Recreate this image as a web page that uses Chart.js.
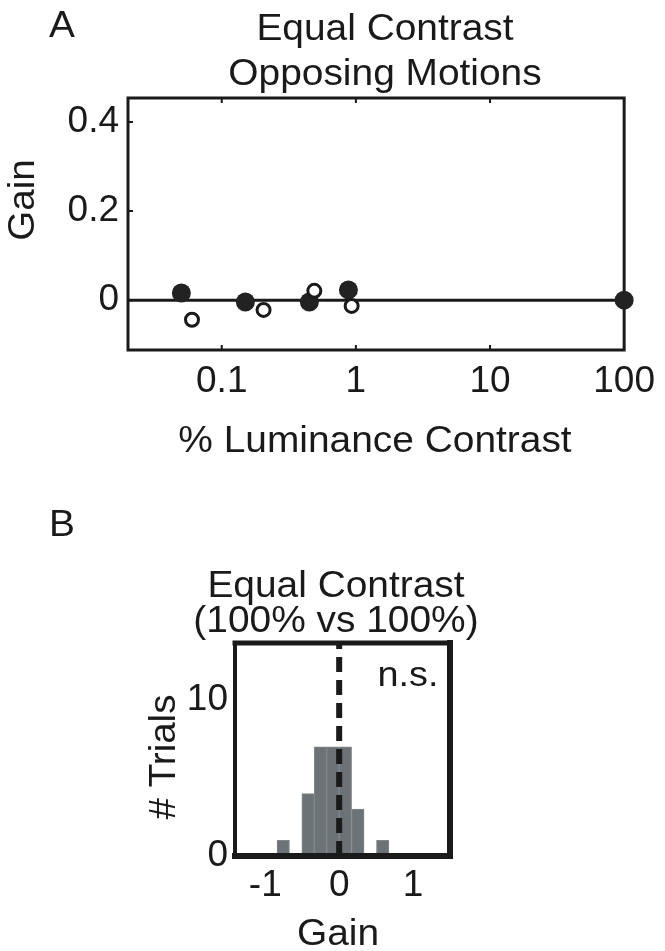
<!DOCTYPE html>
<html lang="en">
<head>
  <meta charset="UTF-8">
  <title>Equal Contrast - Opposing Motions</title>
  <script src="https://cdn.jsdelivr.net/npm/chart.js@4.4.0/dist/chart.umd.min.js"></script>
  <style>
    body { margin: 0; background: #fff; }
    #wrap { position: relative; width: 665px; height: 951px; }
    #wrap canvas { position: absolute; left: 0; top: 0; }
  </style>
</head>
<body>
  <div id="wrap">
    <canvas id="panelA" width="665" height="951"></canvas>
    <canvas id="panelB" width="665" height="951"></canvas>
  </div>

  <script>
    // panel A: gain vs % luminance contrast
    const contrastFilled = [0.05, 0.15, 0.45, 0.88, 100];
    const gainFilled = [0.016, -0.004, -0.004, 0.023, 0];
    const contrastOpen = [0.06, 0.205, 0.49, 0.93];
    const gainOpen = [-0.044, -0.022, 0.021, -0.013];
    const contrastTicks = [0.1, 1, 10, 100];
    const gainTicks = [0, 0.2, 0.4];

    // panel B: histogram of gain, 100% vs 100%
    const binCenters = [-0.757, -0.589, -0.421, -0.253, -0.084, 0.084, 0.253, 0.421, 0.589];
    const trialCounts = [1, 0, 4, 7, 7, 7, 3, 0, 1];
    const histGainTicks = [-1, 0, 1];
    const trialTicks = [0, 10];

    const FONT = "'Liberation Sans', Arial, Helvetica, sans-serif";
    const INK = '#1a1a1a';
    const TICK_SIZE = 37;
    Chart.defaults.font.family = FONT;
    Chart.defaults.color = INK;

    // free text (titles, axis names), slightly widened like the figure
    function label(ctx, s, x, y, size, rotate) {
      ctx.save();
      ctx.font = size + 'px ' + FONT;
      ctx.fillStyle = INK;
      ctx.textAlign = 'center';
      ctx.textBaseline = 'alphabetic';
      ctx.translate(x, y);
      if (rotate) {
        ctx.rotate(-Math.PI / 2);
        ctx.scale(1.07, 1);
      } else {
        ctx.scale(1.08, 1);
      }
      ctx.fillText(s, 0, 0);
      ctx.restore();
    }

    function fixedTicks(values) {
      return scale => { scale.ticks = values.map(v => ({ value: v })); };
    }

    // ---------- A ----------
    const decoA = {
      id: 'decoA',
      beforeDatasetsDraw(chart) {
        const { ctx, chartArea: a, scales: { x, y } } = chart;
        ctx.save();
        ctx.strokeStyle = INK;
        ctx.lineWidth = 3;
        ctx.strokeRect(a.left, a.top, a.width, a.height);
        ctx.lineWidth = 2;
        ctx.beginPath();
        contrastTicks.forEach(v => {
          const px = x.getPixelForValue(v);
          ctx.moveTo(px, a.bottom); ctx.lineTo(px, a.bottom - 5);
          ctx.moveTo(px, a.top); ctx.lineTo(px, a.top + 5);
        });
        gainTicks.forEach(v => {
          const py = y.getPixelForValue(v);
          ctx.moveTo(a.left, py); ctx.lineTo(a.left + 5, py);
        });
        ctx.stroke();
        ctx.restore();
      },
      afterDraw(chart) {
        const ctx = chart.ctx;
        label(ctx, 'A', 62, 37, 36);
        label(ctx, 'Equal Contrast', 385, 40, 36);
        label(ctx, 'Opposing Motions', 385, 85, 36);
        label(ctx, 'Gain', 34, 200, 36, true);
        label(ctx, '% Luminance Contrast', 375, 452, 36);
      }
    };

    new Chart(document.getElementById('panelA'), {
      type: 'scatter',
      data: {
        datasets: [
          {
            label: 'open',
            data: contrastOpen.map((c, i) => ({ x: c, y: gainOpen[i] })),
            pointRadius: 6.5,
            pointBackgroundColor: '#fff',
            pointBorderColor: INK,
            pointBorderWidth: 3,
            order: 0,
            clip: false
          },
          {
            label: 'filled',
            data: contrastFilled.map((c, i) => ({ x: c, y: gainFilled[i] })),
            pointRadius: 9.5,
            pointBackgroundColor: '#222',
            pointBorderWidth: 0,
            order: 1,
            clip: false
          },
          {
            label: 'zero',
            data: [{ x: 0.02, y: 0 }, { x: 100, y: 0 }],
            showLine: true,
            borderColor: INK,
            borderWidth: 3,
            pointRadius: 0,
            order: 2
          }
        ]
      },
      options: {
        responsive: false,
        animation: false,
        layout: { padding: { top: 98, left: 0, right: 40, bottom: 471 } },
        plugins: { legend: { display: false }, tooltip: { enabled: false } },
        scales: {
          x: {
            type: 'logarithmic',
            min: 0.02,
            max: 100,
            afterBuildTicks: fixedTicks(contrastTicks),
            afterFit(s) { s.height = 130; },
            grid: { display: false, drawTicks: false },
            border: { display: false },
            ticks: {
              padding: 10,
              maxRotation: 0,
              font: { size: TICK_SIZE },
              callback: v => String(v)
            }
          },
          y: {
            min: -0.112,
            max: 0.454,
            afterBuildTicks: fixedTicks(gainTicks),
            afterFit(s) { s.width = 128; },
            grid: { display: false, drawTicks: false },
            border: { display: false },
            ticks: { padding: 9, font: { size: TICK_SIZE }, callback: v => String(v) }
          }
        }
      },
      plugins: [decoA]
    });

    // ---------- B ----------
    const decoB = {
      id: 'decoB',
      afterDatasetsDraw(chart) {
        const { ctx, chartArea: a } = chart;
        ctx.save();
        ctx.strokeStyle = INK;
        ctx.lineCap = 'square';
        const side = (w, x1, y1, x2, y2) => {
          ctx.lineWidth = w;
          ctx.beginPath(); ctx.moveTo(x1, y1); ctx.lineTo(x2, y2); ctx.stroke();
        };
        side(5, a.left, a.top, a.right, a.top);
        side(4, a.left, a.top, a.left, a.bottom);
        side(6, a.right, a.top, a.right, a.bottom);
        side(6, a.left, a.bottom, a.right, a.bottom);
        ctx.restore();
      },
      afterDraw(chart) {
        const ctx = chart.ctx;
        label(ctx, 'B', 62, 536, 36);
        label(ctx, 'Equal Contrast', 336, 597, 36);
        label(ctx, '(100% vs 100%)', 336, 632, 36);
        label(ctx, 'n.s.', 408, 686, 35);
        label(ctx, '# Trials', 175, 757, 36, true);
        label(ctx, 'Gain', 338, 945, 36);
      }
    };

    const yMaxB = 13.65;

    new Chart(document.getElementById('panelB'), {
      type: 'bar',
      data: {
        datasets: [
          {
            type: 'line',
            label: 'zero gain',
            data: [{ x: 0, y: 0 }, { x: 0, y: yMaxB }],
            borderColor: INK,
            borderWidth: 6,
            borderDash: [15, 8],
            pointRadius: 0,
            order: 0
          },
          {
            label: '# trials',
            data: binCenters.map((c, i) => ({ x: c, y: trialCounts[i] })),
            backgroundColor: '#6c7376',
            borderColor: '#80878a',
            borderWidth: 1,
            barPercentage: 1,
            categoryPercentage: 1,
            order: 1
          }
        ]
      },
      options: {
        responsive: false,
        animation: false,
        layout: { padding: { top: 643, left: 0, right: 215, bottom: 0 } },
        plugins: { legend: { display: false }, tooltip: { enabled: false } },
        scales: {
          x: {
            type: 'linear',
            offset: false,
            min: -1.41,
            max: 1.5,
            afterBuildTicks: fixedTicks(histGainTicks),
            afterFit(s) { s.height = 95; },
            grid: { display: false, drawTicks: false, offset: false },
            border: { display: false },
            ticks: { padding: 8, maxRotation: 0, font: { size: TICK_SIZE }, callback: v => String(v) }
          },
          y: {
            min: 0,
            max: yMaxB,
            afterBuildTicks: fixedTicks(trialTicks),
            afterFit(s) { s.width = 235; },
            grid: { display: false, drawTicks: false },
            border: { display: false },
            ticks: { padding: 7, font: { size: TICK_SIZE }, callback: v => String(v) }
          }
        }
      },
      plugins: [decoB]
    });
  </script>
</body>
</html>
